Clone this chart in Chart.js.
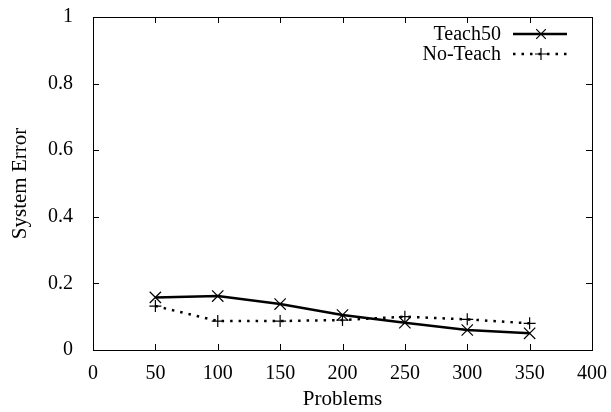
<!DOCTYPE html>
<html>
<head>
<meta charset="utf-8">
<script src="https://cdn.jsdelivr.net/npm/chart.js@4/dist/chart.umd.min.js"></script>
<style>
  html, body { margin: 0; padding: 0; background: #fff; }
  #wrap { width: 611px; height: 412px; }
</style>
</head>
<body>
<div id="wrap"><canvas id="chart" width="611" height="412"></canvas></div>
<script>
const problems = [50, 100, 150, 200, 250, 300, 350];
const teach50 = [0.158, 0.162, 0.138, 0.105, 0.082, 0.060, 0.050];
const noTeach = [0.132, 0.087, 0.087, 0.090, 0.100, 0.092, 0.080];
const seriesNames = ['Teach50', 'No-Teach'];

const FONT = '"Liberation Serif", "DejaVu Serif", serif';

// gnuplot style: box border, inward ticks on all four sides, legend inside
const gnuplotFrame = {
    id: 'gnuplotFrame',
    afterDraw(chart) {
        const ctx = chart.ctx;
        const a = chart.chartArea;
        const xs = chart.scales.x;
        const ys = chart.scales.y;
        const len = 6;
        ctx.save();
        ctx.strokeStyle = '#000';
        ctx.lineWidth = 1;
        ctx.strokeRect(a.left + 0.5, a.top + 0.5, a.right - a.left, a.bottom - a.top);
        ctx.beginPath();
        xs.ticks.forEach(t => {
            const px = Math.round(xs.getPixelForValue(t.value)) + 0.5;
            ctx.moveTo(px, a.bottom); ctx.lineTo(px, a.bottom - len);
            ctx.moveTo(px, a.top); ctx.lineTo(px, a.top + len);
        });
        ys.ticks.forEach(t => {
            const py = Math.round(ys.getPixelForValue(t.value)) + 0.5;
            ctx.moveTo(a.left, py); ctx.lineTo(a.left + len, py);
            ctx.moveTo(a.right, py); ctx.lineTo(a.right - len, py);
        });
        ctx.stroke();

        // legend
        ctx.font = '20px ' + FONT;
        ctx.fillStyle = '#000';
        ctx.textAlign = 'right';
        ctx.textBaseline = 'middle';
        const rows = [a.top + 17, a.top + 37];
        const x0 = 513, x1 = 567, xm = 541;
        chart.data.datasets.forEach((ds, i) => {
            const y = rows[i];
            ctx.fillText(seriesNames[i], 501, y + 1);
            ctx.beginPath();
            ctx.lineWidth = ds.borderWidth;
            ctx.setLineDash(ds.borderDash || []);
            ctx.moveTo(x0, y); ctx.lineTo(x1, y);
            ctx.stroke();
            ctx.setLineDash([]);
            ctx.lineWidth = 1.2;
            ctx.beginPath();
            const r = 6;
            if (ds.pointStyle === 'crossRot') {
                const d = r * 0.8;
                ctx.moveTo(xm - d, y - d); ctx.lineTo(xm + d, y + d);
                ctx.moveTo(xm - d, y + d); ctx.lineTo(xm + d, y - d);
            } else {
                ctx.moveTo(xm - r, y); ctx.lineTo(xm + r, y);
                ctx.moveTo(xm, y - r); ctx.lineTo(xm, y + r);
            }
            ctx.stroke();
        });
        ctx.restore();
    }
};

new Chart(document.getElementById('chart'), {
    type: 'line',
    data: {
        datasets: [
            {
                label: seriesNames[0],
                data: problems.map((p, i) => ({ x: p, y: teach50[i] })),
                borderColor: '#000',
                borderWidth: 2.5,
                pointStyle: 'crossRot',
                pointRadius: 8,
                pointBorderWidth: 1.2,
                pointBorderColor: '#000',
                tension: 0
            },
            {
                label: seriesNames[1],
                data: problems.map((p, i) => ({ x: p, y: noTeach[i] })),
                borderColor: '#000',
                borderWidth: 2.5,
                borderDash: [2.5, 6],
                pointStyle: 'cross',
                pointRadius: 6,
                pointBorderWidth: 1.2,
                pointBorderColor: '#000',
                tension: 0
            }
        ]
    },
    options: {
        responsive: false,
        animation: false,
        layout: { padding: { left: 0, right: 19, top: 17, bottom: 0 } },
        plugins: { legend: { display: false }, tooltip: { enabled: false } },
        scales: {
            x: {
                type: 'linear',
                min: 0, max: 400,
                border: { display: false },
                grid: { display: false },
                ticks: { stepSize: 50, color: '#000', maxRotation: 0, padding: 4, font: { family: FONT, size: 20 } },
                title: { display: true, text: 'Problems', color: '#000', padding: { top: 6, bottom: 0 }, font: { family: FONT, size: 21 } },
                afterFit(s) { s.height = 62; s.paddingLeft = 0; s.paddingRight = 0; }
            },
            y: {
                min: 0, max: 1,
                border: { display: false },
                grid: { display: false },
                ticks: { stepSize: 0.2, color: '#000', padding: 12, font: { family: FONT, size: 20 },
                    callback: v => Math.round(v * 10) / 10 },
                title: { display: true, text: 'System Error', color: '#000', padding: { top: 8, bottom: 0 }, font: { family: FONT, size: 21 } },
                afterFit(s) { s.width = 93; s.paddingTop = 0; s.paddingBottom = 0; }
            }
        }
    },
    plugins: [gnuplotFrame]
});
</script>
</body>
</html>
